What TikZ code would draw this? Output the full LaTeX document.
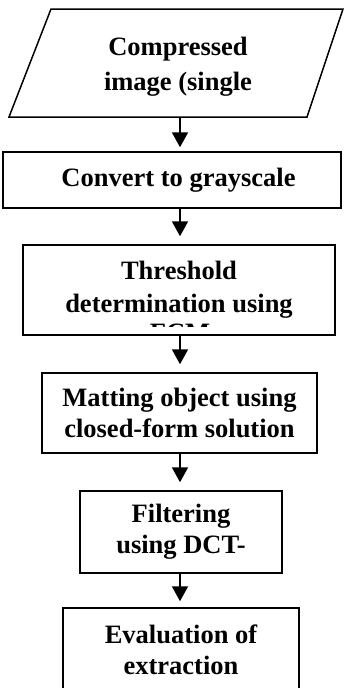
\documentclass[tikz,border=0pt]{standalone}
\usepackage{fontspec}
\setmainfont{Liberation Serif}
\usetikzlibrary{arrows.meta}
\begin{document}
\begin{tikzpicture}[x=1pt,y=1pt,
  txt/.style={font=\fontsize{26.5}{31}\selectfont\bfseries, align=center, inner sep=0pt},
  stepbox/.style={txt, draw, line width=1.5pt, minimum width=#1},
  arr/.style={line width=2pt, -{Triangle[width=16pt,length=15pt]}}]
\useasboundingbox (0,0) rectangle (344,-688);
\clip (0,0) rectangle (344,-688);
\coordinate (ax) at (180,0);
% input parallelogram
\draw[line width=1.5pt] (9,-117) -- (51,-9) -- (343,-9) -- (307,-117) -- cycle;
\node[txt, font=\fontsize{26.5}{35}\selectfont\bfseries] (n1) at (178,-67) {Compressed\\image (single};
\coordinate (n1b) at (180,-117);
\node[stepbox=338pt, minimum height=56pt] (n2) at (172,-180) {\hspace*{13pt}Convert to grayscale};
\node[stepbox=312pt, minimum height=90pt, font=\fontsize{26.5}{33}\selectfont\bfseries] (n3) at (179,-290) {Threshold\\determination using};
\begin{scope}
\clip (140,-323.5) rectangle (220,-326.8);
\node[txt, anchor=base] (n3c) at (180,-341) {FCM};
\end{scope}
\node[stepbox=275pt, minimum height=80pt] (n4) at (179.5,-413) {Matting object using\\closed-form solution};
\node[stepbox=202pt, minimum height=82pt] (n5) at (181,-532) {Filtering\\using DCT-};
\node[stepbox=236pt, minimum height=84pt] (n6) at (181,-650) {Evaluation of\\extraction};
\draw[arr, shorten >=4pt] (n1b) -- (n2.north -| ax);
\draw[arr, shorten >=8pt] (n2.south -| ax) -- (n3.north -| ax);
\draw[arr, shorten >=8pt] (n3.south -| ax) -- (n4.north -| ax);
\draw[arr, shorten >=8pt] (n4.south -| ax) -- (n5.north -| ax);
\draw[arr, shorten >=6pt] (n5.south -| ax) -- (n6.north -| ax);
\end{tikzpicture}
\end{document}
